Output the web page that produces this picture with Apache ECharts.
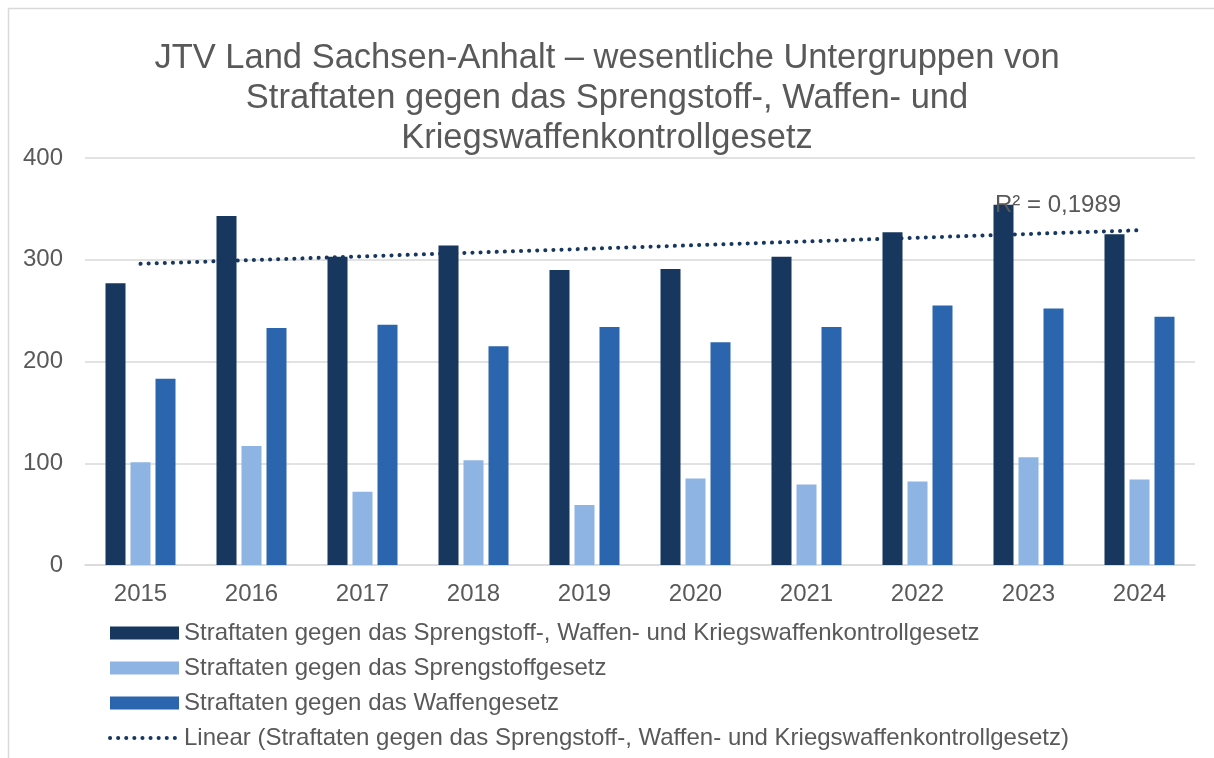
<!DOCTYPE html>
<html>
<head>
<meta charset="utf-8">
<style>
  html, body { margin: 0; padding: 0; background: #fff; }
  #chart { width: 1214px; height: 758px; }
</style>
<script src="https://cdn.jsdelivr.net/npm/echarts@6/dist/echarts.min.js"></script>
</head>
<body>
<div id="chart"></div>
<script>
const years = ['2015', '2016', '2017', '2018', '2019', '2020', '2021', '2022', '2023', '2024'];
const gesamt = [277, 343, 303, 314, 290, 291, 303, 327, 354, 325];
const sprengstoff = [101, 117, 72, 103, 59, 85, 79, 82, 106, 84];
const waffen = [183, 233, 236, 215, 234, 219, 234, 255, 252, 244];
// trend line (start and end only)
const trend = [296, null, null, null, null, null, null, null, null, 329];
const yTicks = [0, 100, 200, 300, 400];

const names = [
    'Straftaten gegen das Sprengstoff-, Waffen- und Kriegswaffenkontrollgesetz',
    'Straftaten gegen das Sprengstoffgesetz',
    'Straftaten gegen das Waffengesetz',
    'Linear (Straftaten gegen das Sprengstoff-, Waffen- und Kriegswaffenkontrollgesetz)'
];
const colors = ['#17375e', '#8eb4e3', '#2a65ad'];
const font = '"Liberation Sans", Arial, sans-serif';
const grey = '#595959';

const chart = echarts.init(document.getElementById('chart'));
chart.setOption({
    animation: false,
    textStyle: { fontFamily: font },
    title: {
        text: 'JTV Land Sachsen-Anhalt – wesentliche Untergruppen von\nStraftaten gegen das Sprengstoff-, Waffen- und\nKriegswaffenkontrollgesetz',
        left: 'center',
        top: 33,
        textStyle: { fontSize: 34.5, fontWeight: 'normal', color: grey, lineHeight: 40, fontFamily: font }
    },
    graphic: [
        {
            type: 'rect',
            shape: { x: 8.5, y: 8.5, width: 1400, height: 900 },
            style: { fill: 'none', stroke: '#d9d9d9', lineWidth: 1.5 },
            silent: true
        },
        {
            type: 'text',
            left: 995,
            top: 193,
            z: 10,
            style: { text: 'R² = 0,1989', fontSize: 24, fill: grey, fontFamily: font }
        }
    ],
    legend: {
        orient: 'vertical',
        left: 108,
        top: 621,
        padding: 0,
        itemWidth: 69,
        itemHeight: 13,
        itemGap: 11,
        textStyle: { fontSize: 24, color: grey, fontFamily: font },
        data: [
            { name: names[0], icon: 'rect' },
            { name: names[1], icon: 'rect' },
            { name: names[2], icon: 'rect' },
            {
                name: names[3],
                itemStyle: { opacity: 0 },
                lineStyle: { width: 4, type: [0.1, 8], cap: 'round', color: colors[0] }
            }
        ]
    },
    grid: { left: 85, right: 19, top: 158, bottom: 193 },
    xAxis: {
        type: 'category',
        data: years,
        axisLine: { lineStyle: { color: '#d9d9d9', width: 1.5 } },
        axisTick: { show: false },
        axisLabel: { fontSize: 24, color: grey, margin: 17 }
    },
    yAxis: {
        type: 'value',
        min: yTicks[0],
        max: yTicks[yTicks.length - 1],
        interval: 100,
        axisLine: { show: false },
        axisTick: { show: false },
        splitLine: { lineStyle: { color: '#d9d9d9', width: 1.5 } },
        axisLabel: { fontSize: 24, color: grey, margin: 22 }
    },
    series: [
        {
            name: names[0], type: 'bar', data: gesamt,
            barWidth: 20, barGap: '25%',
            itemStyle: { color: colors[0] }
        },
        {
            name: names[1], type: 'bar', data: sprengstoff,
            barWidth: 20, barGap: '25%',
            itemStyle: { color: colors[1] }
        },
        {
            name: names[2], type: 'bar', data: waffen,
            barWidth: 20, barGap: '25%',
            itemStyle: { color: colors[2] }
        },
        {
            name: names[3], type: 'line', data: trend,
            connectNulls: true,
            symbol: 'none',
            z: 5,
            lineStyle: { color: colors[0], width: 4, type: [0.1, 8], cap: 'round' },
            itemStyle: { color: colors[0] }
        }
    ]
});
</script>
</body>
</html>
